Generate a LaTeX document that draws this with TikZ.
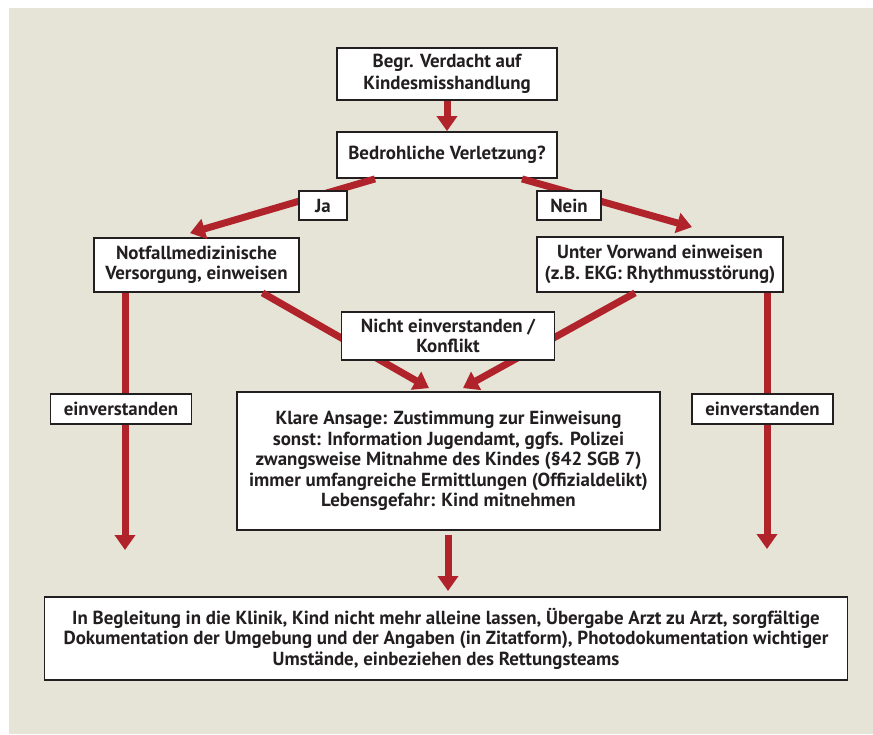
\documentclass[tikz,border=0pt]{standalone}
\usepackage{fontspec}
\setmainfont{PT Sans}
\usetikzlibrary{arrows.meta,calc}
\definecolor{bgc}{HTML}{E6E3D7}
\definecolor{arrc}{HTML}{B1232A}
\definecolor{ink}{HTML}{231F20}
\begin{document}
\begin{tikzpicture}[x=1pt,y=-1pt,
  box/.style={draw=ink, line width=1.8pt, fill=white, inner sep=0pt, align=center,
    text=ink, font=\fontsize{18.9}{20.5}\selectfont\bfseries},
  redarrow/.style={draw=arrc, line width=7pt, -{Triangle[width=20pt,length=15pt]}}]
\useasboundingbox (0,0) rectangle (873,734);
\fill[white] (0,0) rectangle (873,734);
\fill[bgc] (9,8) rectangle (873,734);

% main boxes
\node[box, minimum width=220pt, minimum height=52pt, font=\fontsize{18.9}{22}\selectfont\bfseries] (top) at (447,74) {Begr. Verdacht auf\\Kindesmisshandlung};
\node[box, minimum width=220pt, minimum height=46pt] (q) at (447,155) {Bedrohliche Verletzung?};
\node[box, minimum width=205pt, minimum height=54pt] (notfall) at (196.5,265) {Notfallmedizinische\\Versorgung, einweisen};
\node[box, minimum width=246pt, minimum height=55pt] (vorwand) at (660,264.5) {Unter Vorwand einweisen\\(z.B. EKG: Rhythmusstörung)};
\node[box, minimum width=423pt, minimum height=138pt] (klare) at (448.5,461) {Klare Ansage: Zustimmung zur Einweisung\\sonst: Information Jugendamt, ggfs. Polizei\\zwangsweise Mitnahme des Kindes (§42 SGB 7)\\immer umfangreiche Ermittlungen (Offizialdelikt)\\Lebensgefahr: Kind mitnehmen};
\node[box, minimum width=803pt, minimum height=83pt] (bottom) at (446,638.5) {In Begleitung in die Klinik, Kind nicht mehr alleine lassen, Übergabe Arzt zu Arzt, sorgfältige\\Dokumentation der Umgebung und der Angaben (in Zitatform), Photodokumentation wichtiger\\Umstände, einbeziehen des Rettungsteams};

% end points
\coordinate (endL) at (125,550);
\coordinate (endR) at (767,549);
\coordinate (endM) at (448,591);

% connectors
\draw[redarrow] (top.south) -- (q.north);
\draw[redarrow] ($(q.south)+(-72,0)$) -- ($(notfall.north)+(-6.5,-4)$);
\draw[redarrow] ($(q.south)+(75,0)$) -- ($(vorwand.north)+(32,-9)$);
\draw[redarrow] ($(notfall.south)+(66,0)$) -- ($(klare.north)+(-19.5,-3)$);
\draw[redarrow] ($(vorwand.south)+(-25,0)$) -- ($(klare.north)+(14.5,-3)$);
\draw[redarrow] (notfall.south -| endL) -- (endL);
\draw[redarrow] (vorwand.south -| endR) -- (endR);
\draw[redarrow] ($(klare.south -| endM)+(0,4)$) -- (endM);

% labels on connectors
\node[box, minimum width=48pt, minimum height=29pt] (ja) at (323,205.5) {Ja};
\node[box, minimum width=64pt, minimum height=29pt] (nein) at (569,205.5) {Nein};
\node[box, minimum width=213pt, minimum height=48pt] (konflikt) at (448,336) {Nicht einverstanden /\\Konflikt};
\node[box, minimum width=141pt, minimum height=30pt] (einvL) at (121,409) {einverstanden};
\node[box, minimum width=141pt, minimum height=30pt] (einvR) at (762.5,409) {einverstanden};
\end{tikzpicture}
\end{document}
